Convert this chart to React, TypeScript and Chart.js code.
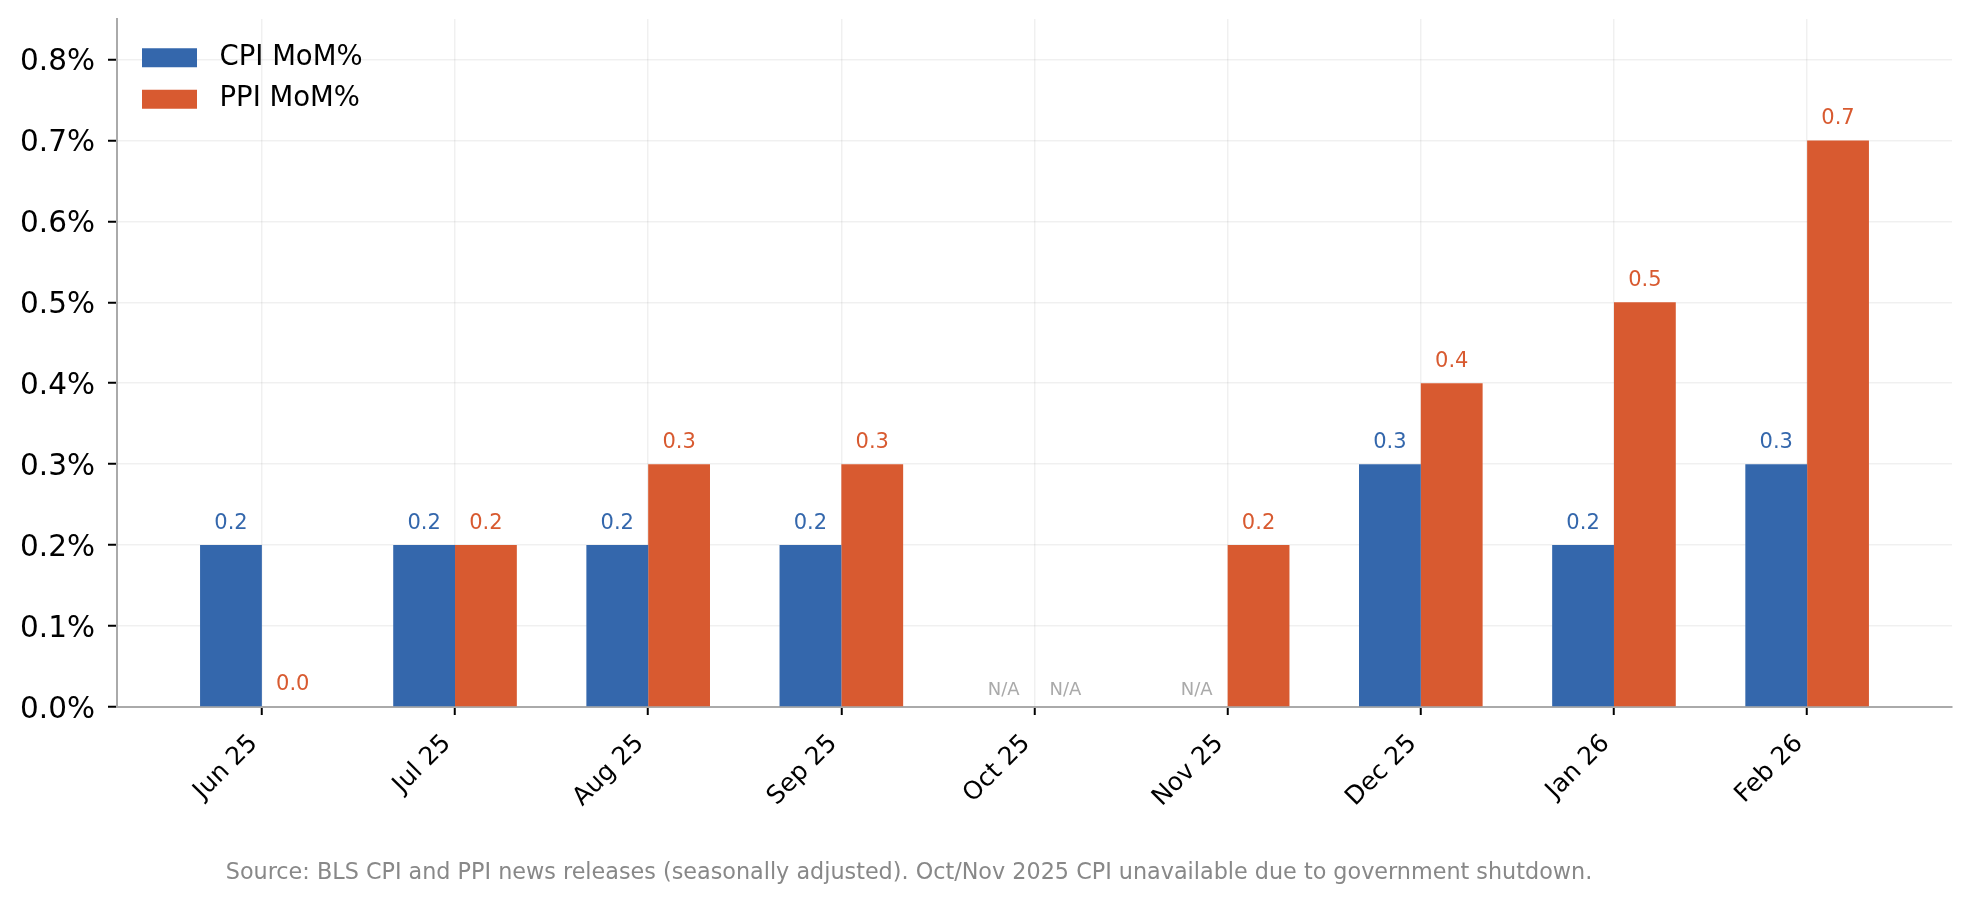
import React, { useEffect, useRef } from 'react';
import { Chart, registerables } from 'chart.js';

Chart.register(...registerables);

const categories = ['Jun 25', 'Jul 25', 'Aug 25', 'Sep 25', 'Oct 25', 'Nov 25', 'Dec 25', 'Jan 26', 'Feb 26'];
const cpiMoM: (number | null)[] = [0.2, 0.2, 0.2, 0.2, null, null, 0.3, 0.2, 0.3];
const ppiMoM: (number | null)[] = [0.0, 0.2, 0.3, 0.3, null, 0.2, 0.4, 0.5, 0.7];
const seriesNames = ['CPI MoM%', 'PPI MoM%'];
const yTicks = [0, 0.1, 0.2, 0.3, 0.4, 0.5, 0.6, 0.7, 0.8];
const naLabel = 'N/A';
const sourceNote =
  'Source: BLS CPI and PPI news releases (seasonally adjusted). Oct/Nov 2025 CPI unavailable due to government shutdown.';

const FONT = '"DejaVu Sans", "Liberation Sans", sans-serif';
const BLUE = '#3467AC';
const ORANGE = '#D85A30';

const seriesValues = [cpiMoM, ppiMoM];
const seriesColors = [BLUE, ORANGE];

const valueLabelsPlugin = {
  id: 'valueLabels',
  afterDatasetsDraw(chart: any) {
    const ctx = chart.ctx;
    const yScale = chart.scales.y;
    const base = yScale.getPixelForValue(0);
    chart.data.datasets.forEach((ds: any, di: number) => {
      const meta = chart.getDatasetMeta(di);
      const vals = seriesValues[di];
      meta.data.forEach((el: any, i: number) => {
        const v = vals[i];
        ctx.save();
        ctx.textAlign = 'center';
        ctx.textBaseline = 'middle';
        if (v === null || v === undefined) {
          ctx.font = `18px ${FONT}`;
          ctx.fillStyle = '#aaaaaa';
          ctx.fillText(naLabel, el.x, base - 17);
        } else {
          ctx.font = `21px ${FONT}`;
          ctx.fillStyle = seriesColors[di];
          ctx.fillText(v.toFixed(1), el.x, yScale.getPixelForValue(v) - 22);
        }
        ctx.restore();
      });
    });
  },
};

const layoutTweakPlugin = {
  id: 'layoutTweak',
  afterLayout(chart: any) {
    const lg = chart.legend;
    const ca = chart.chartArea;
    if (lg) {
      lg.left = ca.left + 11;
      lg.top = ca.top + 11;
      lg.right = ca.right;
      lg.bottom = ca.bottom;
    }
  },
};

const captionPlugin = {
  id: 'caption',
  afterDraw(chart: any) {
    const ctx = chart.ctx;
    ctx.save();
    ctx.font = `22.3px ${FONT}`;
    ctx.fillStyle = '#888888';
    ctx.textAlign = 'center';
    ctx.textBaseline = 'middle';
    ctx.fillText(sourceNote, 909, 873);
    ctx.restore();
  },
};

export default function App() {
  const canvasRef = useRef<HTMLCanvasElement | null>(null);

  useEffect(() => {
    document.body.style.margin = '0';
    const canvas = canvasRef.current;
    if (!canvas) return;
    const chart = new Chart(canvas, {
      type: 'bar',
      data: {
        datasets: seriesValues.map((vals, di) => ({
          label: seriesNames[di],
          data: vals.map((v, i) => ({ x: i, y: v })),
          backgroundColor: seriesColors[di],
          borderWidth: 0,
          categoryPercentage: 0.64,
          barPercentage: 1.0,
        })),
      },
      options: {
        animation: false,
        responsive: true,
        maintainAspectRatio: false,
        devicePixelRatio: 1,
        layout: { padding: { top: 19, right: 21, left: 0, bottom: 0 } },
        scales: {
          x: {
            type: 'linear',
            min: -0.75,
            max: 8.75,
            offset: false,
            afterBuildTicks: (axis: any) => {
              axis.ticks = categories.map((_, i) => ({ value: i }));
            },
            afterFit: (scale: any) => {
              scale.height = 195;
              scale.paddingLeft = 0;
              scale.paddingRight = 0;
            },
            ticks: {
              autoSkip: false,
              minRotation: 45,
              maxRotation: 45,
              padding: 14,
              labelOffset: -8,
              color: '#000',
              font: { family: FONT, size: 25 },
              callback: (value: any) => categories[Math.round(Number(value))] ?? '',
            },
            grid: {
              offset: false,
              color: 'rgba(0,0,0,0.06)',
              lineWidth: 1.5,
              drawTicks: true,
              tickLength: 8,
              tickColor: '#000',
              tickWidth: 2,
            },
            border: { color: '#aaaaaa', width: 2 },
          },
          y: {
            type: 'linear',
            min: 0,
            max: 0.85,
            afterBuildTicks: (axis: any) => {
              axis.ticks = yTicks.map((v) => ({ value: v }));
            },
            afterFit: (scale: any) => {
              scale.width = 117;
              scale.paddingTop = 0;
              scale.paddingBottom = 0;
            },
            ticks: {
              padding: 13,
              labelOffset: 3,
              color: '#000',
              font: { family: FONT, size: 29.5 },
              callback: (value: any) => Number(value).toFixed(1) + '%',
            },
            grid: {
              color: 'rgba(0,0,0,0.06)',
              lineWidth: 1.5,
              drawTicks: true,
              tickLength: 9,
              tickColor: '#000',
              tickWidth: 2,
            },
            border: { color: '#aaaaaa', width: 2 },
          },
        },
        plugins: {
          legend: {
            position: 'chartArea' as any,
            align: 'start',
            labels: {
              boxWidth: 55,
              boxHeight: 19,
              padding: 14,
              color: '#000',
              font: { family: FONT, size: 27.5 },
              generateLabels: (chart: any) =>
                Chart.defaults.plugins.legend.labels.generateLabels(chart).map((item: any) => ({
                  ...item,
                  text: ' ' + item.text,
                })),
            },
          },
          tooltip: { enabled: false },
          title: { display: false },
        },
      },
      plugins: [valueLabelsPlugin, layoutTweakPlugin, captionPlugin],
    });
    return () => chart.destroy();
  }, []);

  return (
    <div style={{ position: 'relative', width: '1973px', height: '902px', background: '#fff' }}>
      <canvas ref={canvasRef} />
    </div>
  );
}
